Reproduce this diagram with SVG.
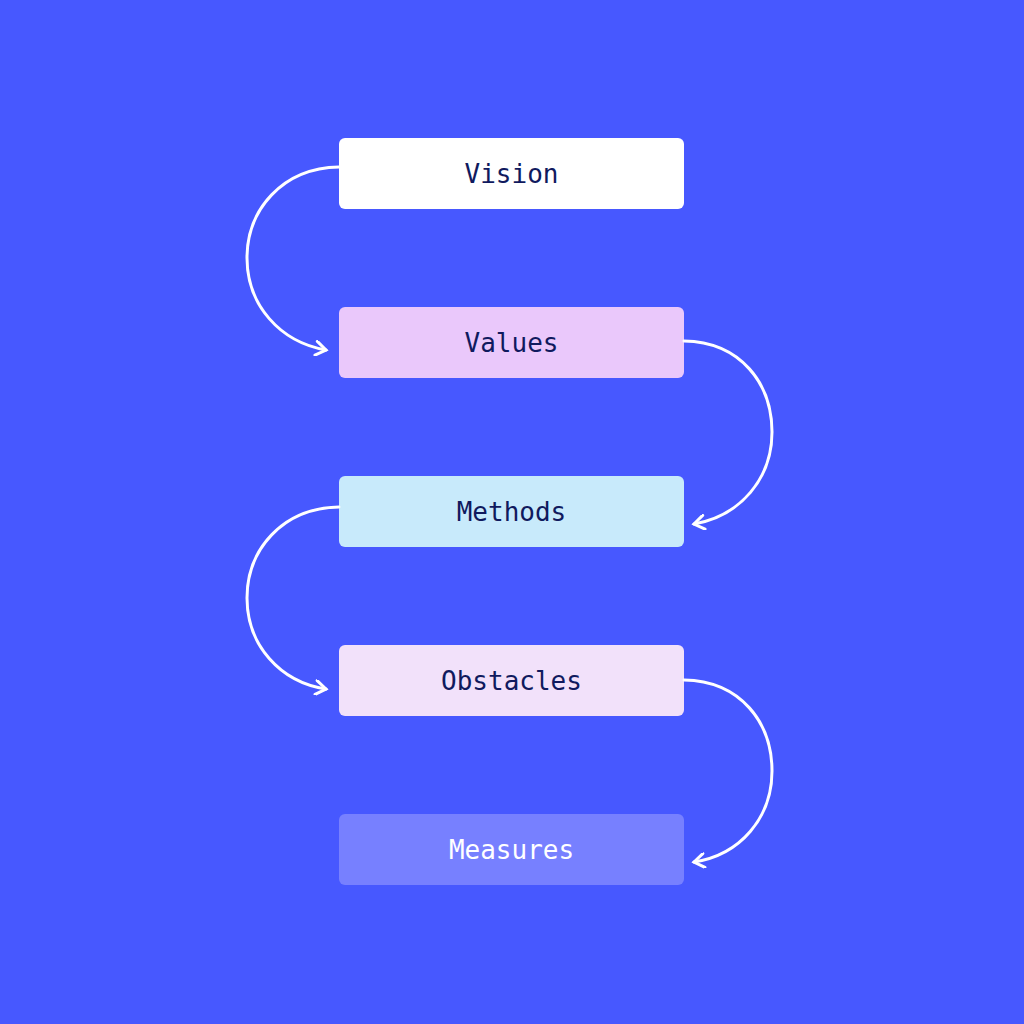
<svg xmlns="http://www.w3.org/2000/svg" width="1024" height="1024" viewBox="0 0 1024 1024">
<style>
.t{font-family:"DejaVu Sans Mono","Liberation Mono",monospace;font-size:26px;fill:#101a5e;text-anchor:middle;dominant-baseline:central}
.c{fill:none;stroke:#fff;stroke-width:3;stroke-linecap:round;stroke-linejoin:round}
</style>
<defs><marker id="a" viewBox="0 0 12 12" refX="10" refY="6" markerWidth="12" markerHeight="12" markerUnits="userSpaceOnUse" orient="auto"><path d="M2,1 L10,6 L2,11" fill="none" stroke="#fff" stroke-width="2.6" stroke-linecap="round"/></marker>
<marker id="b" viewBox="0 0 16 16" refX="13" refY="8" markerWidth="16" markerHeight="16" markerUnits="userSpaceOnUse" orient="auto"><path d="M3,1 L13,8 L3,15" fill="none" stroke="#fff" stroke-width="3" stroke-linecap="round"/></marker></defs>
<rect width="1024" height="1024" fill="#4758ff"/>
<g id="vision"><rect x="339" y="138" width="345" height="71" rx="6" fill="#fff"/><text class="t" x="511.5" y="174">Vision</text></g>
<g id="values"><rect x="339" y="307" width="345" height="71" rx="6" fill="#eac8fb"/><text class="t" x="511.5" y="343">Values</text></g>
<g id="methods"><rect x="339" y="476" width="345" height="71" rx="6" fill="#c8eafb"/><text class="t" x="511.5" y="512">Methods</text></g>
<g id="obstacles"><rect x="339" y="645" width="345" height="71" rx="6" fill="#f2e1fa"/><text class="t" x="511.5" y="681">Obstacles</text></g>
<g id="measures"><rect x="339" y="814" width="345" height="71" rx="6" fill="#7780ff"/><text class="t" x="511.5" y="850" style="fill:#fff">Measures</text></g>
<g id="connectors">
<path class="c" marker-end="url(#b)" d="M339,167 C282,168 247,210 247,258 C247,305 280,342 326,350"/>
<path class="c" marker-end="url(#b)" d="M684,341 C741,342 772,384 772,432 C772,479 740,516 694,524"/>
<path class="c" marker-end="url(#b)" d="M339,507 C282,508 247,550 247,598 C247,645 280,682 326,689"/>
<path class="c" marker-end="url(#b)" d="M684,680 C741,681 772,723 772,771 C772,818 740,855 694,862"/>
</g>
</svg>
